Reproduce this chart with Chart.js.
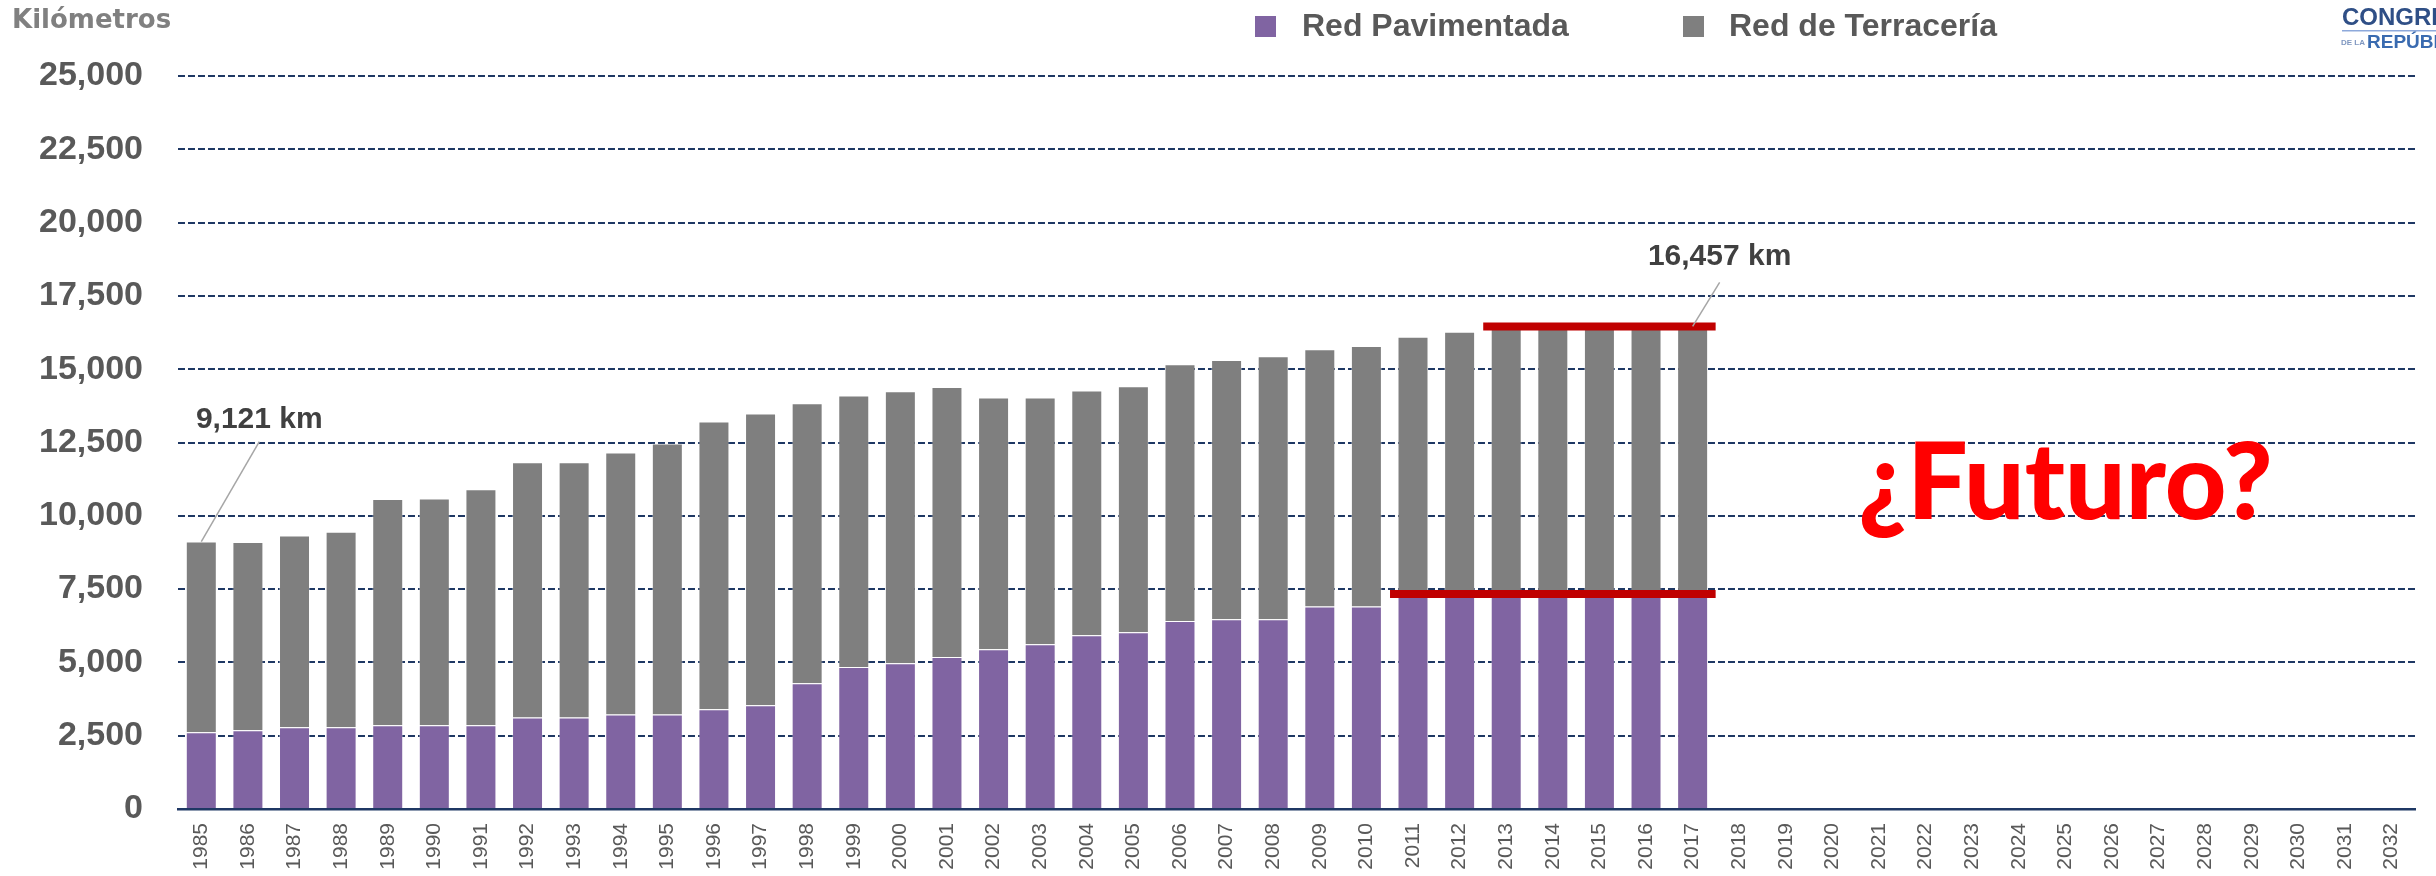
<!DOCTYPE html>
<html>
<head>
<meta charset="utf-8">
<script src="https://cdn.jsdelivr.net/npm/chart.js@4.4.1/dist/chart.umd.min.js"></script>
<style>
  body { margin: 0; background: #fff; }
  #wrap { position: relative; width: 2436px; height: 876px; }
</style>
</head>
<body>
<div id="wrap"><canvas id="roadChart" width="2436" height="876"></canvas></div>
<script>
// years on the x axis (1985 - 2032)
const years = []
for (let y = 1985; y <= 2032; y++) years.push(String(y))

// km of paved network, 1985-2017
const redPavimentada = [
  2620, 2690, 2790, 2790, 2860, 2860, 2860, 3120, 3120, 3220, 3220,
  3400, 3540, 4290, 4840, 4970, 5180, 5450, 5620, 5930, 6030,
  6410, 6470, 6470, 6910, 6910, 7330, 7330, 7330, 7330, 7330, 7330, 7330
]
// km of dirt network, 1985-2017
const redTerraceria = [
  6501, 6420, 6542, 6665, 7709, 7732, 8049, 8709, 8709, 8939, 9246,
  9815, 9947, 9548, 9260, 9277, 9214, 8583, 8413, 8341, 8388,
  8757, 8843, 8970, 8768, 8880, 8780, 8950, 9127, 9127, 9127, 9127, 9127
]

const yTicks = [0, 2500, 5000, 7500, 10000, 12500, 15000, 17500, 20000, 22500, 25000]

// red reference lines: [first year, last year, km]
const refLines = [
  ['2013', '2017', 16457],
  ['2011', '2017', 7330]
]
// callouts: [year, km, text]
const callouts = [
  ['1985', 9121, '9,121 km'],
  ['2017', 16457, '16,457 km']
]

const purple = '#8064A2'
const grey = '#7F7F7F'
const tickGrey = '#595959'
const navy = '#1F3864'

const extras = {
  id: 'extras',
  afterDatasetsDraw(chart) {
    const {ctx, scales: {x, y}} = chart
    ctx.save()
    // red lines
    ctx.strokeStyle = '#C00000'
    ctx.lineWidth = 8
    refLines.forEach(r => {
      const y0 = y.getPixelForValue(r[2])
      ctx.beginPath()
      ctx.moveTo(x.getPixelForValue(r[0]) - 23, y0)
      ctx.lineTo(x.getPixelForValue(r[1]) + 23, y0)
      ctx.stroke()
    })
    // callouts
    const offs = [[58, -100, -114], [27, -44, -61]]
    ctx.font = 'bold 30px "Liberation Sans", sans-serif'
    ctx.textAlign = 'center'
    ctx.textBaseline = 'alphabetic'
    callouts.forEach((c, i) => {
      const px = x.getPixelForValue(c[0])
      const py = y.getPixelForValue(c[1])
      ctx.strokeStyle = '#A6A6A6'
      ctx.lineWidth = 1.5
      ctx.beginPath()
      ctx.moveTo(px, py)
      ctx.lineTo(px + offs[i][0], py + offs[i][1])
      ctx.stroke()
      ctx.fillStyle = '#404040'
      ctx.fillText(c[2], px + offs[i][0], py + offs[i][2])
    })
    // future question
    ctx.fillStyle = '#FF0000'
    ctx.font = '900 107px Lato, sans-serif'
    ctx.fillText('¿Futuro?', x.getPixelForValue('2025'), y.getPixelForValue(9880))

    // unit title
    ctx.textAlign = 'left'
    ctx.fillStyle = '#808080'
    ctx.font = 'bold 26px "DejaVu Sans", sans-serif'
    ctx.fillText('Kilómetros', 12, 28)

    // legend
    ctx.font = 'bold 32px "Liberation Sans", sans-serif'
    ctx.textBaseline = 'middle'
    const legX = [[1255, 1302], [1683, 1729]]
    chart.data.datasets.forEach((ds, i) => {
      ctx.fillStyle = ds.backgroundColor
      ctx.fillRect(legX[i][0], 16, 21, 21)
      ctx.fillStyle = tickGrey
      ctx.fillText(ds.label, legX[i][1], 27)
    })

    // logo (cut off at the edge)
    ctx.textBaseline = 'alphabetic'
    ctx.fillStyle = '#2F4F86'
    ctx.font = 'bold 24px "Liberation Sans", sans-serif'
    ctx.fillText('CONGRESO', 2342, 25)
    ctx.fillStyle = '#8EA9DB'
    ctx.fillRect(2342, 30, 94, 1.5)
    ctx.fillStyle = '#3A6BB0'
    ctx.font = 'bold 19px "Liberation Sans", sans-serif'
    ctx.fillText('REPÚBLICA', 2367, 48)
    ctx.fillStyle = '#7F97C0'
    ctx.font = 'bold 8px "Liberation Sans", sans-serif'
    ctx.fillText('DE LA', 2341, 45)
    ctx.restore()
  }
}

const data = {
  labels: years,
  datasets: [{
    label: 'Red Pavimentada',
    data: redPavimentada,
    backgroundColor: purple,
    borderColor: 'rgba(255,255,255,0.35)',
    borderWidth: 1,
    barPercentage: 0.665,
    categoryPercentage: 1.0
  }, {
    label: 'Red de Terracería',
    data: redTerraceria,
    backgroundColor: grey,
    borderColor: 'rgba(255,255,255,0.35)',
    borderWidth: 1,
    barPercentage: 0.665,
    categoryPercentage: 1.0
  }]
}

const config = {
  type: 'bar',
  data: data,
  options: {
    responsive: false,
    animation: false,
    devicePixelRatio: 1,
    layout: {padding: {top: 76, right: 21, left: 0, bottom: 0}},
    plugins: {legend: {display: false}, tooltip: {enabled: false}},
    scales: {
      x: {
        stacked: true,
        grid: {display: false, drawTicks: false},
        border: {display: true, color: navy, width: 2.5},
        ticks: {
          color: tickGrey,
          font: {family: '"Liberation Sans", sans-serif', size: 21},
          minRotation: 90, maxRotation: 90, padding: 14, autoSkip: false
        },
        afterFit(scale) { scale.height = 67 }
      },
      y: {
        stacked: true,
        min: 0, max: 25000,
        afterBuildTicks(scale) { scale.ticks = yTicks.map(v => ({value: v})) },
        grid: {color: navy, lineWidth: 2, drawTicks: false},
        border: {display: false, dash: [7, 3]},
        ticks: {
          color: tickGrey,
          padding: 35,
          font: {family: '"Liberation Sans", sans-serif', size: 34, weight: 'bold'},
          callback: v => v.toLocaleString('en-US')
        },
        afterFit(scale) { scale.width = 178 }
      }
    }
  },
  plugins: [extras]
}

const myChart = new Chart(document.getElementById('roadChart'), config)
</script>
</body>
</html>
